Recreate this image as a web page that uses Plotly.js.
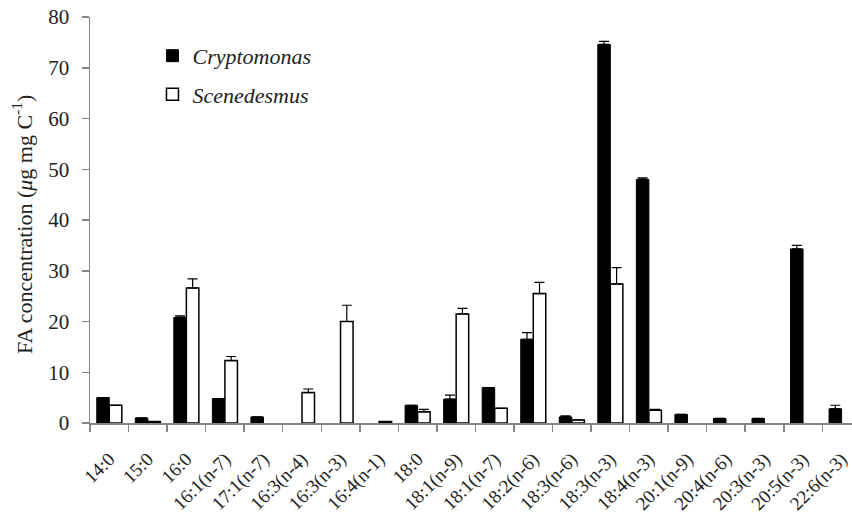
<!DOCTYPE html>
<html>
<head>
<meta charset="utf-8">
<script src="https://cdn.plot.ly/plotly-3.0.1.min.js"></script>
<style>html,body{margin:0;padding:0;background:#fff;}#chart{width:852px;height:515px;}</style>
</head>
<body>
<div id="chart"></div>
<script>
var categories = ['14:0','15:0','16:0','16:1(n-7)','17:1(n-7)','16:3(n-4)','16:3(n-3)','16:4(n-1)','18:0','18:1(n-9)','18:1(n-7)','18:2(n-6)','18:3(n-6)','18:3(n-3)','18:4(n-3)','20:1(n-9)','20:4(n-6)','20:3(n-3)','20:5(n-3)','22:6(n-3)'];
var cryptomonas = [5.0, 1.0, 20.8, 4.8, 1.2, null, null, null, 3.5, 4.7, 7.0, 16.5, 1.2, 74.6, 48.0, 1.7, 0.9, 0.9, 34.3, 2.8];
var cryptomonasErr = [0, 0, 0.3, 0, 0, 0, 0, 0, 0, 0.8, 0, 1.3, 0.2, 0.6, 0.3, 0, 0, 0, 0.7, 0.7];
var scenedesmus = [3.5, 0.3, 26.6, 12.3, null, 6.0, 20.0, 0.3, 2.2, 21.5, 2.9, 25.5, 0.6, 27.4, 2.5, null, null, null, null, null];
var scenedesmusErr = [0, 0, 1.8, 0.8, 0, 0.7, 3.2, 0, 0.5, 1.1, 0, 2.2, 0, 3.2, 0.2, 0, 0, 0, 0, 0];
var yTitle = 'FA concentration (<i>μ</i>g mg C<sup>-1</sup>)';

var font = "'Liberation Serif', 'Times New Roman', serif";
var traces = [
  {type:'bar', name:'<i>Cryptomonas</i>', x:categories, y:cryptomonas, legendgroup:'a',
   marker:{color:'#000', line:{color:'#000', width:1}},
   error_y:{type:'data', symmetric:false, array:cryptomonasErr, arrayminus:cryptomonasErr.map(function(){return 0;}), color:'#000', thickness:1.2, width:5}},
  {type:'bar', name:'<i>Scenedesmus</i>', x:categories, y:scenedesmus, legendgroup:'b',
   marker:{color:'#fff', line:{color:'#000', width:1.5}},
   error_y:{type:'data', symmetric:false, array:scenedesmusErr, arrayminus:scenedesmusErr.map(function(){return 0;}), color:'#000', thickness:1.2, width:5}}
];
var layout = {
  width:852, height:515,
  margin:{l:90, r:0, t:17, b:92, pad:0},
  paper_bgcolor:'#fff', plot_bgcolor:'#fff',
  font:{family:font, size:19, color:'#222'},
  barmode:'group', bargap:0.35, bargroupgap:0,
  showlegend:true,
  legend:{x:0.082, y:0.956, xanchor:'left', yanchor:'top', font:{family:font, size:22, color:'#222'},
          traceorder:'grouped', tracegroupgap:7, bgcolor:'rgba(0,0,0,0)'},
  xaxis:{type:'category', range:[-0.5, 19.27], tickson:'boundaries', ticks:'outside', ticklen:7,
         tickcolor:'#868686', tickwidth:1.5, showline:true, linecolor:'#868686', linewidth:1.5,
         tickangle:-45, showgrid:false, zeroline:false, automargin:false, ticklabelstandoff:16,
         tickfont:{family:font, size:19, color:'#222'}},
  yaxis:{range:[0,80], dtick:10, ticks:'outside', ticklen:7, tickcolor:'#868686', tickwidth:1.5,
         showline:true, linecolor:'#868686', linewidth:1.5, showgrid:false, zeroline:false,
         ticklabelstandoff:8, automargin:false,
         tickfont:{family:font, size:21, color:'#222'}},
  annotations:[{text:yTitle, xref:'paper', yref:'paper', x:-0.089, y:0.488, xanchor:'center', yanchor:'middle',
                textangle:-90, showarrow:false, font:{family:font, size:22, color:'#222'}}]
};
Plotly.newPlot('chart', traces, layout, {displayModeBar:false, staticPlot:true});
</script>
</body>
</html>
